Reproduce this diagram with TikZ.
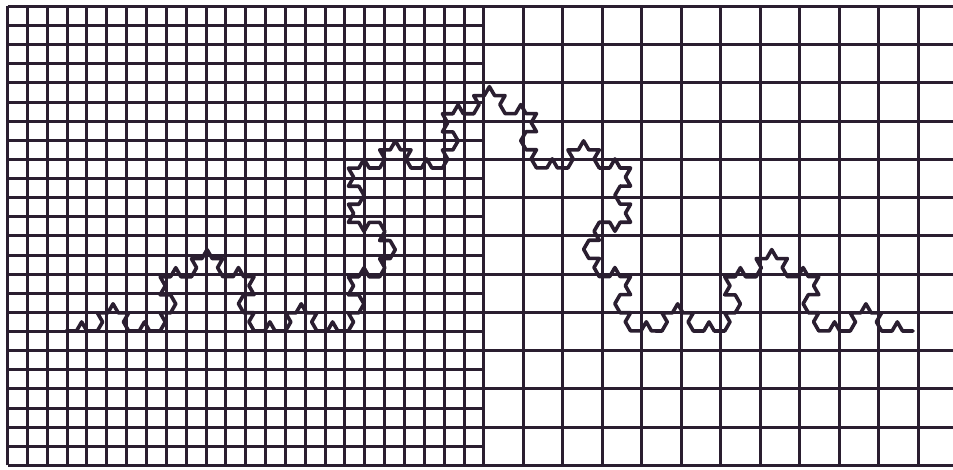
\documentclass[tikz,border=0pt]{standalone}
\usetikzlibrary{decorations.fractals}

\definecolor{ink}{RGB}{42,30,48}

\begin{document}
\begin{tikzpicture}[
  x=1pt, y=1pt,
  gridline/.style={draw=ink, line width=3pt},
  kochline/.style={draw=ink, line width=3.6pt, line join=round, line cap=round,
    decoration=Koch snowflake}
]
\useasboundingbox[fill=white] (0,0) rectangle (953,470);
% fine half on the left
\foreach \i [evaluate=\i as \xx using {round(7+\i*19.85)+0.5}] in {0,...,24}
  \draw[gridline] (\xx,4.5) -- (\xx,463.5);
\foreach \i [evaluate=\i as \yy using {round(4+\i*19.125)+0.5}] in {0,...,24}
  \draw[gridline] (7.5,\yy) -- (484,\yy);
% coarse half on the right
\foreach \i [evaluate=\i as \xx using {round(483.4+\i*39.5)+0.5}] in {1,...,11}
  \draw[gridline] (\xx,4.5) -- (\xx,463.5);
\foreach \i [evaluate=\i as \yy using {round(4+\i*38.25)+0.5}] in {0,...,12}
  \draw[gridline] (483,\yy) -- (953,\yy);
% the curve
\coordinate (kstart) at (66,139);
\coordinate (kend) at (913,139);
\draw[kochline] decorate{decorate{decorate{decorate{(kstart) -- (kend)}}}};
\end{tikzpicture}
\end{document}
